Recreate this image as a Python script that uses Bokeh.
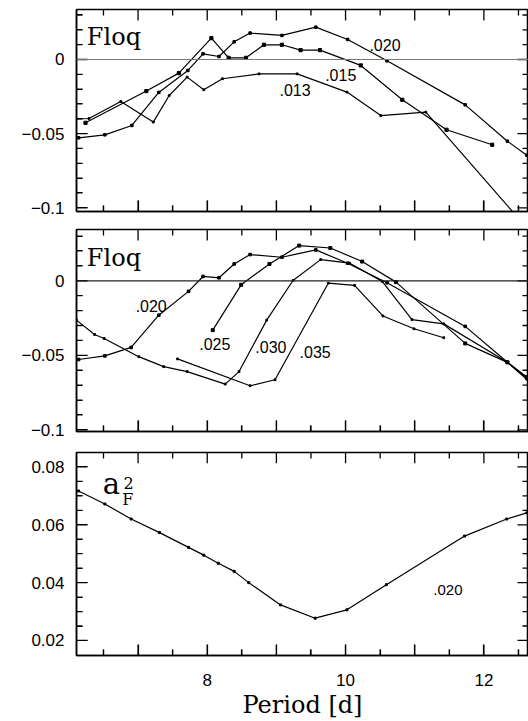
from bokeh.plotting import figure
from bokeh.models import FixedTicker, Span, Range1d
from bokeh.layouts import column
from bokeh.embed import file_html
from bokeh.resources import INLINE
from bokeh.core.properties import value

# ---------------- data ----------------
# Panel 1 (Floq): curves labelled by parameter value
p1_020_x = [6.14, 6.52, 6.91, 7.30, 7.72, 7.94, 8.17, 8.39, 8.62, 9.08, 9.57, 10.03, 10.60, 11.73, 12.34, 12.62]
p1_020_y = [-0.0528, -0.0508, -0.0445, -0.0222, -0.0074, 0.0038, 0.0020, 0.0119, 0.0178, 0.0162, 0.0218, 0.0135, -0.0009, -0.0306, -0.0551, -0.0645]
p1_015_x = [6.24, 7.12, 7.59, 8.06, 8.31, 8.56, 8.82, 9.08, 9.35, 9.63, 10.22, 10.82, 11.46, 12.12]
p1_015_y = [-0.0427, -0.0213, -0.0092, 0.0144, 0.0011, 0.0011, 0.0099, 0.0099, 0.0063, 0.0063, -0.0040, -0.0272, -0.0474, -0.0575]
p1_013_x = [6.11, 6.29, 6.75, 7.22, 7.45, 7.71, 7.95, 8.22, 8.75, 9.30, 10.02, 10.51, 11.16, 12.47]
p1_013_y = [-0.0400, -0.0398, -0.0283, -0.0422, -0.0243, -0.0119, -0.0204, -0.0130, -0.0097, -0.0097, -0.0220, -0.0378, -0.0355, -0.1055]

# Panel 2 (Floq)
p2_020_x = [6.14, 6.52, 6.90, 7.30, 7.73, 7.94, 8.17, 8.39, 8.62, 9.08, 9.57, 10.03, 10.60, 11.73, 12.34, 12.62]
p2_020_y = [-0.0528, -0.0504, -0.0447, -0.0231, -0.0071, 0.0029, 0.0020, 0.0113, 0.0176, 0.0158, 0.0207, 0.0118, -0.0013, -0.0306, -0.0547, -0.0645]
p2_025_x = [8.08, 8.49, 8.90, 9.33, 9.78, 10.24, 10.73, 11.73, 12.34, 12.62]
p2_025_y = [-0.0331, -0.0027, 0.0113, 0.0236, 0.0220, 0.0129, -0.0009, -0.0420, -0.0547, -0.0650]
p2_030_x = [6.11, 6.37, 6.51, 7.01, 7.37, 7.71, 8.26, 8.46, 8.86, 9.24, 9.64, 10.06, 10.53, 10.96, 11.42, 12.34, 12.62]
p2_030_y = [-0.0264, -0.0360, -0.0387, -0.0509, -0.0576, -0.0609, -0.0693, -0.0609, -0.0264, 0.0002, 0.0142, 0.0118, -0.0004, -0.0260, -0.0289, -0.0547, -0.0660]
p2_035_x = [7.57, 8.62, 8.98, 9.75, 10.13, 10.54, 10.99, 11.42]
p2_035_y = [-0.0524, -0.0704, -0.0664, -0.0016, -0.0031, -0.0236, -0.0322, -0.0382]

# Panel 3 (a_F^2)
a2_x = [6.14, 6.52, 6.90, 7.31, 7.73, 7.95, 8.16, 8.39, 8.60, 9.06, 9.56, 10.02, 10.59, 11.72, 12.33, 12.62]
a2_y = [0.0717, 0.0672, 0.0620, 0.0573, 0.0522, 0.0495, 0.0467, 0.0439, 0.0400, 0.0323, 0.0277, 0.0306, 0.0393, 0.0561, 0.0620, 0.0641]

# ticks
x_major = [7, 8, 9, 10, 11, 12]
x_minor = [6.5, 7.5, 8.5, 9.5, 10.5, 11.5, 12.5]
x_labels = {7: "", 8: "8", 9: "", 10: "10", 11: "", 12: "12"}
floq_major = [-0.1, -0.05, 0.0]
floq_minor = [-0.09, -0.08, -0.07, -0.06, -0.04, -0.03, -0.02, -0.01, 0.01, 0.02, 0.03]
floq_labels = {-0.1: "\u22120.1", -0.05: "\u22120.05", 0.0: "0"}
a2_major = [0.02, 0.04, 0.06, 0.08]
a2_minor = [0.025, 0.03, 0.035, 0.045, 0.05, 0.055, 0.065, 0.07, 0.075]
a2_labels = {0.02: "0.02", 0.04: "0.04", 0.06: "0.06", 0.08: "0.08"}

XR = (6.11, 12.645)
FRAME_W = 452
TICK_FONT = "Liberation Sans"
SERIF = "DejaVu Serif"
MAJ = 11   # px tick length (inside frame)
MIN = 6


def style_axis(ax, ticks, minor, labels, show=True):
    ax.ticker = FixedTicker(ticks=ticks, minor_ticks=minor)
    ax.major_tick_in = MAJ
    ax.major_tick_out = 0
    ax.minor_tick_in = MIN
    ax.minor_tick_out = 0
    ax.major_tick_line_color = "black"
    ax.minor_tick_line_color = "black"
    ax.major_tick_line_width = 1.2
    ax.minor_tick_line_width = 1.2
    ax.axis_line_color = "black"
    ax.axis_line_width = 1.5
    if show:
        ax.major_label_overrides = labels
        ax.major_label_text_font = TICK_FONT
        ax.major_label_text_font_size = "17px"
        ax.major_label_text_color = "black"
    else:
        ax.major_label_overrides = {t: "" for t in ticks}
        ax.major_label_text_font_size = "0px"
        ax.major_label_standoff = 0


def inner_ticks(p, yr, frame_h, yt, ym):
    ypx = frame_h / (yr[1] - yr[0])       # px per y unit
    xpx = FRAME_W / (XR[1] - XR[0])       # px per x unit
    for vals, L in [(x_major, MAJ), (x_minor, MIN)]:
        d = L / ypx
        p.segment(vals, [yr[0]] * len(vals), vals, [yr[0] + d] * len(vals),
                  line_color="black", line_width=1.3)
        p.segment(vals, [yr[1]] * len(vals), vals, [yr[1] - d] * len(vals),
                  line_color="black", line_width=1.3)
    for vals, L in [(yt, MAJ), (ym, MIN)]:
        d = L / xpx
        p.segment([XR[0]] * len(vals), vals, [XR[0] + d] * len(vals), vals,
                  line_color="black", line_width=1.3)
        p.segment([XR[1]] * len(vals), vals, [XR[1] - d] * len(vals), vals,
                  line_color="black", line_width=1.3)


def make_fig(height, bt, bb, yr, yt, ym, yl, xlab):
    p = figure(width=76 + FRAME_W, height=height, x_range=Range1d(*XR), y_range=Range1d(*yr),
               output_backend="svg", toolbar_location=None,
               min_border_left=76, min_border_right=0, min_border_top=bt, min_border_bottom=bb)
    p.xgrid.visible = False
    p.ygrid.visible = False
    p.outline_line_color = "black"
    p.outline_line_width = 1.5
    p.background_fill_color = "white"
    p.border_fill_color = "white"
    left = p.left[0]
    bottom = p.below[0]
    style_axis(left, yt, ym, yl, True)
    left.major_label_standoff = 12
    style_axis(bottom, x_major, x_minor, x_labels, xlab)
    inner_ticks(p, yr, height - bt - bb, yt, ym)
    return p, bottom


def lbl(p, x, y, t, size, font=TICK_FONT, align="center"):
    p.text(x=[x], y=[y], text=[t], text_font=value(font), text_font_size=size,
           text_align=align, text_baseline="middle", text_color="black")


# ---------- panel 1 ----------
p1, _ = make_fig(220, 9, 9, (-0.1025, 0.0337), floq_major, floq_minor, floq_labels, False)
p1.add_layout(Span(location=0, dimension="width", line_color="#777777", line_width=1.2))
for xs, ys in [(p1_020_x, p1_020_y), (p1_015_x, p1_015_y), (p1_013_x, p1_013_y)]:
    p1.line(xs, ys, line_color="black", line_width=1.2)
p1.scatter(p1_020_x, p1_020_y, marker="square", size=2.5, color="black")
p1.scatter(p1_015_x, p1_015_y, marker="square", size=3.2, color="black")
p1.scatter(p1_013_x, p1_013_y, marker="square", size=1.8, color="black")
lbl(p1, 6.26, 0.0152, "Floq", "24px", SERIF, "left")
lbl(p1, 10.57, 0.0095, ".020", "16px")
lbl(p1, 9.93, -0.0108, ".015", "16px")
lbl(p1, 9.27, -0.0203, ".013", "16px")

# ---------- panel 2 ----------
p2, _ = make_fig(221, 9, 10, (-0.1011, 0.0344), floq_major, floq_minor, floq_labels, False)
p2.add_layout(Span(location=0, dimension="width", line_color="#222222", line_width=1.2))
for xs, ys in [(p2_020_x, p2_020_y), (p2_025_x, p2_025_y), (p2_030_x, p2_030_y), (p2_035_x, p2_035_y)]:
    p2.line(xs, ys, line_color="black", line_width=1.2)
p2.scatter(p2_020_x, p2_020_y, marker="square", size=2.6, color="black")
p2.scatter(p2_025_x, p2_025_y, marker="square", size=3.0, color="black")
p2.scatter(p2_030_x, p2_030_y, marker="square", size=1.8, color="black")
p2.scatter(p2_035_x, p2_035_y, marker="square", size=1.8, color="black")
lbl(p2, 6.26, 0.0156, "Floq", "24px", SERIF, "left")
lbl(p2, 7.19, -0.0167, ".020", "16px")
lbl(p2, 8.11, -0.0424, ".025", "16px")
lbl(p2, 8.92, -0.0442, ".030", "16px")
lbl(p2, 9.56, -0.0476, ".035", "16px")

# ---------- panel 3 ----------
p3, xb = make_fig(280, 11, 63, (0.0148, 0.085), a2_major, a2_minor, a2_labels, True)
xb.major_label_standoff = 18
xb.axis_label = "Period [d]"
xb.axis_label_text_font = SERIF
xb.axis_label_text_font_size = "24px"
xb.axis_label_text_font_style = "normal"
xb.axis_label_text_color = "black"
xb.axis_label_standoff = 2
p3.line(a2_x, a2_y, line_color="black", line_width=1.2)
p3.scatter(a2_x, a2_y, marker="square", size=2.0, color="black")
lbl(p3, 6.49, 0.0742, "a", "29px", SERIF, "left")
lbl(p3, 6.79, 0.0745, "2", "16px", SERIF, "left")
lbl(p3, 6.77, 0.0689, "F", "16px", SERIF, "left")
lbl(p3, 11.48, 0.0376, ".020", "15px")

layout = column(p1, p2, p3, spacing=0)
open("out.html", "w").write(file_html(layout, INLINE))
